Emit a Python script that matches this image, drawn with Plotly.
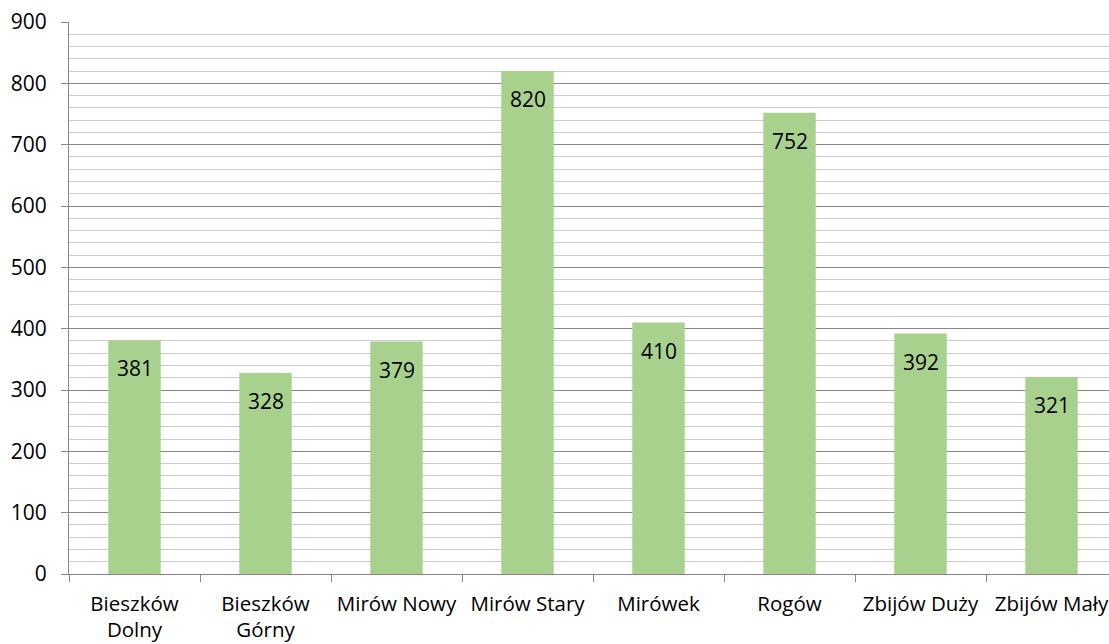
import plotly.graph_objects as go

categories = ["Bieszków<br>Dolny", "Bieszków<br>Górny", "Mirów Nowy", "Mirów Stary",
              "Mirówek", "Rogów", "Zbijów Duży", "Zbijów Mały"]
values = [381, 328, 379, 820, 410, 752, 392, 321]
y_ticks = [0, 100, 200, 300, 400, 500, 600, 700, 800, 900]

FONT = "Open Sans"
fig = go.Figure()
fig.add_trace(go.Bar(x=categories, y=values, marker=dict(color="#a9d18e", line=dict(width=0)),
                     hoverinfo="x+y"))

for c, v in zip(categories, values):
    fig.add_annotation(x=c, y=v, text=str(v), showarrow=False, yanchor="middle",
                       yshift=-28, font=dict(family=FONT, size=21, color="#000000"))

fig.update_layout(
    width=1109, height=644,
    margin=dict(l=69, r=0, t=22, b=70, autoexpand=False),
    plot_bgcolor="white", paper_bgcolor="white",
    bargap=0.6, showlegend=False,
    font=dict(family=FONT, size=21, color="#000000"),
)
fig.update_xaxes(
    type="category", range=[-0.5, 7.5 - 8 / 131], tickson="boundaries",
    ticks="outside", ticklen=7, tickcolor="#868686", showline=True, linecolor="#868686",
    linewidth=1, showgrid=False, tickangle=0, fixedrange=True, automargin=False,
    ticklabelstandoff=11,
    tickfont=dict(family=FONT, size=20.5, color="#000000"),
)
fig.update_yaxes(
    range=[0, 900], tickvals=y_ticks, ticks="outside", ticklen=7, tickcolor="#868686",
    showline=True, linecolor="#868686", linewidth=1,
    showgrid=True, gridcolor="#888888", gridwidth=1.2, zeroline=False,
    minor=dict(dtick=20, showgrid=True, gridcolor="#cccccc", gridwidth=1.4),
    ticklabelstandoff=10, fixedrange=True, automargin=False,
    tickfont=dict(family=FONT, size=21, color="#000000"),
)
fig.write_html("out.html", config={"displayModeBar": False},
               post_script="document.body.style.margin='0';document.body.style.overflow='hidden';")
